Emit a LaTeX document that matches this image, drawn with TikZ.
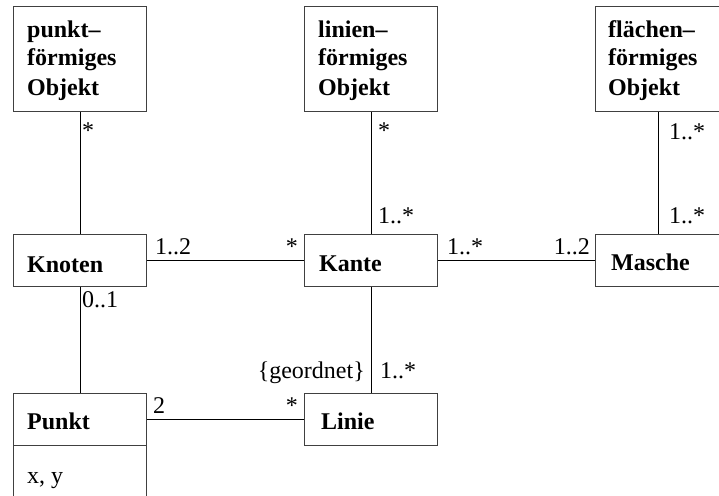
\documentclass[tikz,border=0pt]{standalone}
\usepackage{fontspec}
\setmainfont{Liberation Serif}
\begin{document}
\begin{tikzpicture}[x=1pt,y=-1pt,
  box/.style={draw=black!75,line width=1.1pt,anchor=north west,inner sep=0pt,minimum width=133pt},
  title/.style={anchor=base west,inner sep=0pt,font=\fontsize{24}{29}\selectfont\bfseries,align=left},
  plain/.style={anchor=base west,inner sep=0pt,font=\fontsize{24}{29}\selectfont},
  mult/.style={inner sep=0pt,font=\fontsize{24}{29}\selectfont},
  link/.style={draw=black,line width=1pt}]
\useasboundingbox (0,0) rectangle (719,495);
\clip (0,0) rectangle (719,495);

% class boxes
\node[box,minimum height=105pt] (punktobj) at (13,6) {};
\node[box,minimum height=105pt] (linienobj) at (304,6) {};
\node[box,minimum height=105pt,minimum width=126pt] (flaechenobj) at (595,6) {};
\node[box,minimum height=52pt] (knoten) at (13,234) {};
\node[box,minimum height=52pt] (kante) at (304,234) {};
\node[box,minimum height=52pt,minimum width=126pt] (masche) at (595,234) {};
\node[box,minimum height=52pt] (punkt) at (13,393) {};
\node[box,minimum height=60pt] (punktattr) at (13,445) {};
\node[box,minimum height=52pt] (linie) at (304,393) {};

% class names (multi-line names are placed by the baseline of their last line)
\node[title] (tpunktobj) at (27,95) {punkt–\\förmiges\\Objekt};
\node[title] (tlinienobj) at (318,95) {linien–\\förmiges\\Objekt};
\node[title] (tflaechenobj) at (608,95) {flächen–\\förmiges\\Objekt};
\node[title] (tknoten) at (27,272) {Knoten};
\node[title] (tkante) at (319,271) {Kante};
\node[title] (tmasche) at (611,270) {Masche};
\node[title] (tpunkt) at (27,429) {Punkt};
\node[plain] (tattr) at (27,483) {x, y};
\node[title] (tlinie) at (321,429) {Linie};

% associations
\draw[link] (punktobj.south) -- (knoten.north);
\draw[link] (linienobj.south) -- (kante.north);
\draw[link] (flaechenobj.south) -- (masche.north);
\draw[link] (knoten.east) -- (kante.west);
\draw[link] (kante.east) -- (masche.west);
\draw[link] (knoten.south) -- (punkt.north);
\draw[link] (kante.south) -- (linie.north);
\draw[link] (punkt.east) -- (linie.west);

% multiplicities
\node[mult,anchor=base west] (m1) at (82,138) {*};
\node[mult,anchor=base west] (m2) at (378,138) {*};
\node[mult,anchor=base west] (m3) at (669,139) {1..*};
\node[mult,anchor=base west] (m4) at (378,223) {1..*};
\node[mult,anchor=base west] (m5) at (669,223) {1..*};
\node[mult,anchor=base west] (m6) at (155,254) {1..2};
\node[mult,anchor=base east] (m7) at (298,254) {*};
\node[mult,anchor=base west] (m8) at (447,254) {1..*};
\node[mult,anchor=base east] (m9) at (590,254) {1..2};
\node[mult,anchor=base west] (m10) at (82,307) {0..1};
\node[mult,anchor=base east] (m11) at (365,378) {\{geordnet\}};
\node[mult,anchor=base west] (m12) at (380,378) {1..*};
\node[mult,anchor=base west] (m13) at (153,413) {2};
\node[mult,anchor=base east] (m14) at (298,413) {*};
\end{tikzpicture}
\end{document}
